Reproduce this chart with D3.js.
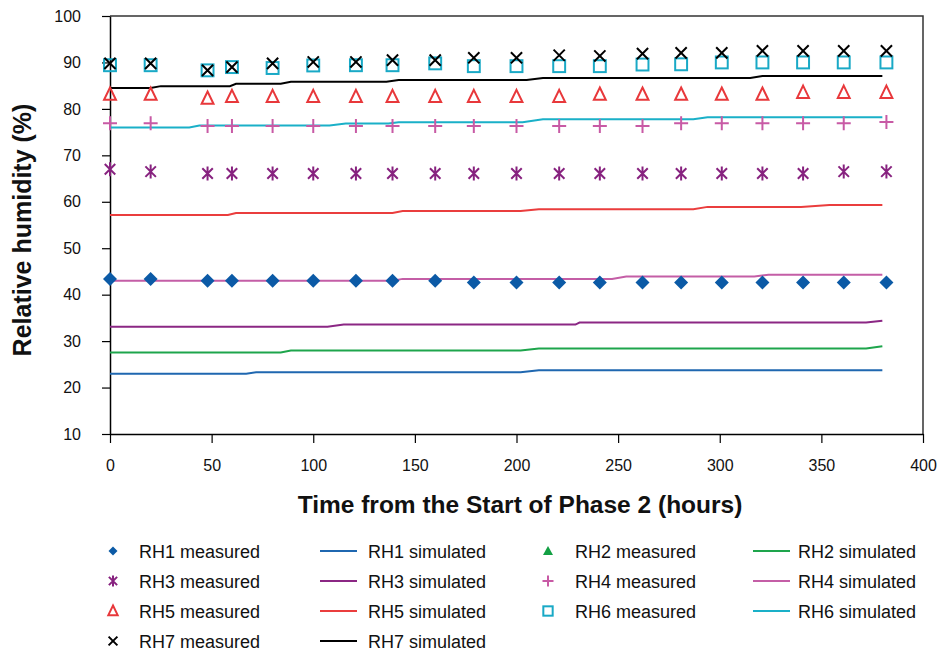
<!DOCTYPE html>
<html>
<head>
<meta charset="utf-8">
<script src="https://cdn.jsdelivr.net/npm/d3@7"></script>
<style>
  html, body { margin: 0; padding: 0; background: #fff; }
  svg { display: block; font-family: Arial, "Liberation Sans", sans-serif; }
</style>
</head>
<body>
<svg id="chart" width="938" height="654"></svg>
<script>
// Measurement times (hours from the start of phase 2)
const measuredTimes = [0, 20, 48, 60, 80, 100, 121, 139, 160, 179, 200, 221, 241, 262, 281, 301, 321, 341, 361, 382];

// Measured relative humidity (%) at each sensor
const rh1Measured = [43.4, 43.4, 43.0, 43.0, 43.0, 43.0, 43.0, 43.0, 43.0, 42.6, 42.6, 42.6, 42.6, 42.6, 42.6, 42.6, 42.6, 42.6, 42.6, 42.6];
const rh2Measured = [];
const rh3Measured = [67.0, 66.5, 66.1, 66.1, 66.1, 66.1, 66.1, 66.1, 66.1, 66.1, 66.1, 66.1, 66.1, 66.1, 66.1, 66.1, 66.1, 66.1, 66.5, 66.5];
const rh4Measured = [76.9, 76.9, 76.3, 76.3, 76.3, 76.3, 76.3, 76.3, 76.3, 76.3, 76.3, 76.3, 76.3, 76.3, 76.9, 76.9, 76.9, 76.9, 76.9, 77.2];
const rh5Measured = [83.1, 83.1, 82.25, 82.6, 82.6, 82.6, 82.6, 82.6, 82.6, 82.6, 82.6, 82.6, 83.1, 83.1, 83.1, 83.1, 83.1, 83.5, 83.5, 83.5];
const rh6Measured = [89.4, 89.4, 88.3, 89.0, 88.8, 89.35, 89.4, 89.4, 89.8, 89.2, 89.2, 89.2, 89.2, 89.55, 89.6, 90.0, 90.0, 90.0, 90.0, 90.0];
const rh7Measured = [89.8, 89.8, 88.3, 89.0, 89.8, 90.1, 90.1, 90.5, 90.5, 91.0, 91.0, 91.55, 91.4, 91.9, 92.05, 92.05, 92.5, 92.5, 92.5, 92.5];

// Simulated relative humidity (%) as [hours, value] pairs
const rh1Simulated = [[0, 22.97], [67, 22.97], [72, 23.3], [202, 23.3], [211, 23.75], [380, 23.75]];
const rh2Simulated = [[0, 27.55], [84, 27.55], [89, 27.98], [202, 27.98], [211, 28.4], [372, 28.4], [380, 28.9]];
const rh3Simulated = [[0, 33.1], [107, 33.1], [115, 33.55], [229, 33.55], [231, 34.0], [372, 34.0], [380, 34.4]];
const rh4Simulated = [[0, 43.0], [139, 43.0], [144, 43.4], [247, 43.4], [254, 43.9], [317, 43.9], [324, 44.3], [380, 44.3]];
const rh5Simulated = [[0, 57.15], [58, 57.15], [62, 57.6], [139, 57.6], [144, 58.0], [202, 58.0], [211, 58.4], [287, 58.4], [294, 58.9], [340, 58.9], [354, 59.3], [380, 59.3]];
const rh6Simulated = [[0, 76.0], [39, 76.0], [44, 76.4], [108, 76.4], [116, 76.85], [137, 76.85], [142, 77.1], [203, 77.1], [213, 77.75], [287, 77.75], [294, 78.2], [380, 78.2]];
const rh7Simulated = [[0, 84.5], [20, 84.5], [25, 84.9], [59, 84.9], [62, 85.4], [84, 85.4], [89, 85.85], [136, 85.85], [142, 86.2], [205, 86.2], [213, 86.65], [315, 86.65], [321, 87.1], [380, 87.1]];

// Axis ticks
const xTicks = [0, 50, 100, 150, 200, 250, 300, 350, 400];
const yTicks = [10, 20, 30, 40, 50, 60, 70, 80, 90, 100];

const seriesNames = ["RH1", "RH2", "RH3", "RH4", "RH5", "RH6", "RH7"];
const seriesColors = {
  RH1: { marker: "#0b5aa6", line: "#1f67b0" },
  RH2: { marker: "#13a044", line: "#1ea54c" },
  RH3: { marker: "#87227f", line: "#8b2784" },
  RH4: { marker: "#c85aa5", line: "#c45ea6" },
  RH5: { marker: "#e8383b", line: "#ea3d3d" },
  RH6: { marker: "#19a9c6", line: "#1ab0c8" },
  RH7: { marker: "#000000", line: "#000000" }
};
const seriesShapes = { RH1: "diamond", RH2: "triangleFilled", RH3: "asterisk", RH4: "plus", RH5: "triangle", RH6: "square", RH7: "cross" };

const measured = { RH1: rh1Measured, RH2: rh2Measured, RH3: rh3Measured, RH4: rh4Measured, RH5: rh5Measured, RH6: rh6Measured, RH7: rh7Measured };
const simulated = { RH1: rh1Simulated, RH2: rh2Simulated, RH3: rh3Simulated, RH4: rh4Simulated, RH5: rh5Simulated, RH6: rh6Simulated, RH7: rh7Simulated };

const svg = d3.select("#chart");
const plot = { left: 110, right: 923, top: 16, bottom: 434 };

const x = d3.scaleLinear().domain([0, 400]).range([plot.left, plot.right]);
const y = d3.scaleLinear().domain([10, 100]).range([plot.bottom, plot.top]);

// Frame (top and right edges)
svg.append("path")
  .attr("d", `M${plot.left},${plot.top}H${plot.right}V${plot.bottom}`)
  .attr("fill", "none").attr("stroke", "#333").attr("stroke-width", 1.5);

// Axes
const xAxis = svg.append("g").attr("transform", `translate(0,${plot.bottom})`)
  .call(d3.axisBottom(x).tickValues(xTicks).tickSize(9).tickSizeOuter(0).tickPadding(17));
const yAxis = svg.append("g").attr("transform", `translate(${plot.left},0)`)
  .call(d3.axisLeft(y).tickValues(yTicks).tickSize(8).tickSizeOuter(0).tickPadding(21));
[xAxis, yAxis].forEach(g => {
  g.select(".domain").attr("stroke", "#000").attr("stroke-width", 1.5);
  g.selectAll(".tick line").attr("stroke", "#000").attr("stroke-width", 1.2);
  g.selectAll(".tick text").attr("fill", "#111").attr("font-size", 16)
    .attr("font-family", "Arial, 'Liberation Sans', sans-serif");
});

// Axis titles
svg.append("text")
  .attr("x", 520).attr("y", 513)
  .attr("text-anchor", "middle").attr("font-weight", "bold").attr("font-size", 24.5)
  .attr("fill", "#111")
  .text("Time from the Start of Phase 2 (hours)");
svg.append("text")
  .attr("transform", `translate(31,230) rotate(-90)`)
  .attr("text-anchor", "middle").attr("font-weight", "bold").attr("font-size", 25)
  .attr("fill", "#111")
  .text("Relative humidity (%)");

// Marker drawing
function drawMarker(g, shape, color, s) {
  const h = s / 2;
  switch (shape) {
    case "diamond":
      g.append("path").attr("d", `M0,${-h}L${h},0L0,${h}L${-h},0Z`).attr("fill", color);
      break;
    case "triangleFilled":
      g.append("path").attr("d", `M0,${-h}L${h},${h * 0.8}L${-h},${h * 0.8}Z`).attr("fill", color);
      break;
    case "triangle":
      g.append("path").attr("d", `M0,${-h}L${h * 0.85},${h * 0.75}L${-h * 0.85},${h * 0.75}Z`)
        .attr("fill", "none").attr("stroke", color).attr("stroke-width", 2);
      break;
    case "square":
      g.append("rect").attr("x", -h * 0.85).attr("y", -h * 0.85).attr("width", h * 1.7).attr("height", h * 1.7)
        .attr("fill", "none").attr("stroke", color).attr("stroke-width", 2);
      break;
    case "cross":
      g.append("path").attr("d", `M${-h * 0.8},${-h * 0.8}L${h * 0.8},${h * 0.8}M${h * 0.8},${-h * 0.8}L${-h * 0.8},${h * 0.8}`)
        .attr("stroke", color).attr("stroke-width", 2);
      break;
    case "plus":
      g.append("path").attr("d", `M${-h},0H${h}M0,${-h}V${h}`)
        .attr("stroke", color).attr("stroke-width", 2);
      break;
    case "asterisk":
      g.append("path").attr("d", `M${-h * 0.75},${-h * 0.75}L${h * 0.75},${h * 0.75}M${h * 0.75},${-h * 0.75}L${-h * 0.75},${h * 0.75}M0,${-h}V${h}`)
        .attr("stroke", color).attr("stroke-width", 2);
      break;
  }
}

// Simulated lines
const line = d3.line().x(d => x(d[0])).y(d => y(d[1]));
const linesG = svg.append("g");
seriesNames.forEach(name => {
  linesG.append("path").datum(simulated[name])
    .attr("d", line)
    .attr("fill", "none")
    .attr("stroke", seriesColors[name].line)
    .attr("stroke-width", 2);
});

// Measured points
const pointsG = svg.append("g");
seriesNames.forEach(name => {
  measured[name].forEach((v, i) => {
    const g = pointsG.append("g").attr("transform", `translate(${x(measuredTimes[i])},${y(v)})`);
    drawMarker(g, seriesShapes[name], seriesColors[name].marker, 14);
  });
});

// Legend
const legendOrder = [
  ["RH1", "measured"], ["RH1", "simulated"], ["RH2", "measured"], ["RH2", "simulated"],
  ["RH3", "measured"], ["RH3", "simulated"], ["RH4", "measured"], ["RH4", "simulated"],
  ["RH5", "measured"], ["RH5", "simulated"], ["RH6", "measured"], ["RH6", "simulated"],
  ["RH7", "measured"], ["RH7", "simulated"]
];
const colMarkerX = [113, 320, 548, 753];
const colTextX = [139, 368, 575, 798];
const rowY = [552, 582, 612, 642];
const legend = svg.append("g");
legendOrder.forEach(([name, kind], i) => {
  const col = i % 4, row = Math.floor(i / 4);
  const cy = rowY[row];
  if (kind === "measured") {
    const g = legend.append("g").attr("transform", `translate(${colMarkerX[col]},${cy - 1})`);
    const sz = name === "RH1" ? 9 : (name === "RH2" ? 10 : 11);
    drawMarker(g, seriesShapes[name], seriesColors[name].marker, sz);
  } else {
    legend.append("line")
      .attr("x1", colMarkerX[col]).attr("x2", colMarkerX[col] + 37)
      .attr("y1", cy - 1).attr("y2", cy - 1)
      .attr("stroke", seriesColors[name].line).attr("stroke-width", 2);
  }
  legend.append("text")
    .attr("x", colTextX[col]).attr("y", cy).attr("dy", "0.35em")
    .attr("font-size", 18).attr("fill", "#111")
    .text(`${name} ${kind}`);
});
</script>
</body>
</html>
